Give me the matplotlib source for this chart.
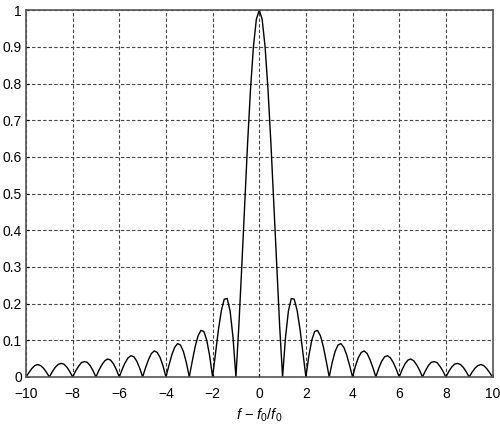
import numpy as np
import matplotlib
matplotlib.use('Agg')
import matplotlib.pyplot as plt

# Magnitude for f - f0/f0 >= 0, step 0.125 (curve is symmetric)
x_step = 0.125
mag_right = [1.000, 0.975, 0.900, 0.784, 0.637, 0.471, 0.300, 0.139,
             0.000, 0.108, 0.180, 0.214, 0.212, 0.181, 0.129, 0.065,
             0.000, 0.057, 0.100, 0.124, 0.127, 0.112, 0.082, 0.042,
             0.000, 0.039, 0.069, 0.087, 0.091, 0.081, 0.060, 0.031,
             0.000, 0.030, 0.053, 0.067, 0.071, 0.064, 0.047, 0.025,
             0.000, 0.024, 0.043, 0.055, 0.058, 0.052, 0.039, 0.021,
             0.000, 0.020, 0.036, 0.046, 0.049, 0.044, 0.033, 0.018,
             0.000, 0.017, 0.031, 0.040, 0.042, 0.039, 0.029, 0.016,
             0.000, 0.015, 0.027, 0.035, 0.037, 0.034, 0.026, 0.014,
             0.000, 0.013, 0.024, 0.031, 0.034, 0.031, 0.023, 0.012,
             0.000]

x_ticks = [-10, -8, -6, -4, -2, 0, 2, 4, 6, 8, 10]
y_ticks = [0, 0.1, 0.2, 0.3, 0.4, 0.5, 0.6, 0.7, 0.8, 0.9, 1]
y_ticklabels = ['0', '0.1', '0.2', '0.3', '0.4', '0.5', '0.6', '0.7', '0.8', '0.9', '1']

# full curve: mirror the right half
n = len(mag_right)
x_right = np.arange(n) * x_step
x = np.concatenate([-x_right[:0:-1], x_right])
y = np.concatenate([mag_right[:0:-1], mag_right])

plt.rcParams['font.family'] = ['Liberation Sans', 'DejaVu Sans']
plt.rcParams['mathtext.fontset'] = 'custom'
plt.rcParams['mathtext.it'] = 'Liberation Sans:italic'
plt.rcParams['mathtext.rm'] = 'Liberation Sans'

fig = plt.figure(figsize=(5, 4.25), dpi=100)
ax = fig.add_axes([0.052, 0.113, 0.933, 0.863])

ax.plot(x, y, color='black', linewidth=1.0)

ax.set_xlim(-10, 10)
ax.set_ylim(0, 1)
ax.set_xticks(x_ticks)
ax.set_xticklabels([str(t).replace('-', '\u2212') for t in x_ticks])
ax.set_yticks(y_ticks)
ax.set_yticklabels(y_ticklabels)
ax.tick_params(direction='in', length=2, labelsize=10, colors='black')
ax.tick_params(axis='x', pad=7)
ax.tick_params(axis='y', pad=3)

# grid
ax.grid(True, linestyle=(0, (3, 2)), color='#444444', linewidth=0.8)
ax.set_axisbelow(True)

# frame
for s in ax.spines.values():
    s.set_color('#555555')
    s.set_linewidth(1.2)

ax.set_xlabel(r'$f$ $-$ $f_{0}/f_{0}$', fontsize=10.5, labelpad=4)

plt.savefig('out.png', dpi=100)
